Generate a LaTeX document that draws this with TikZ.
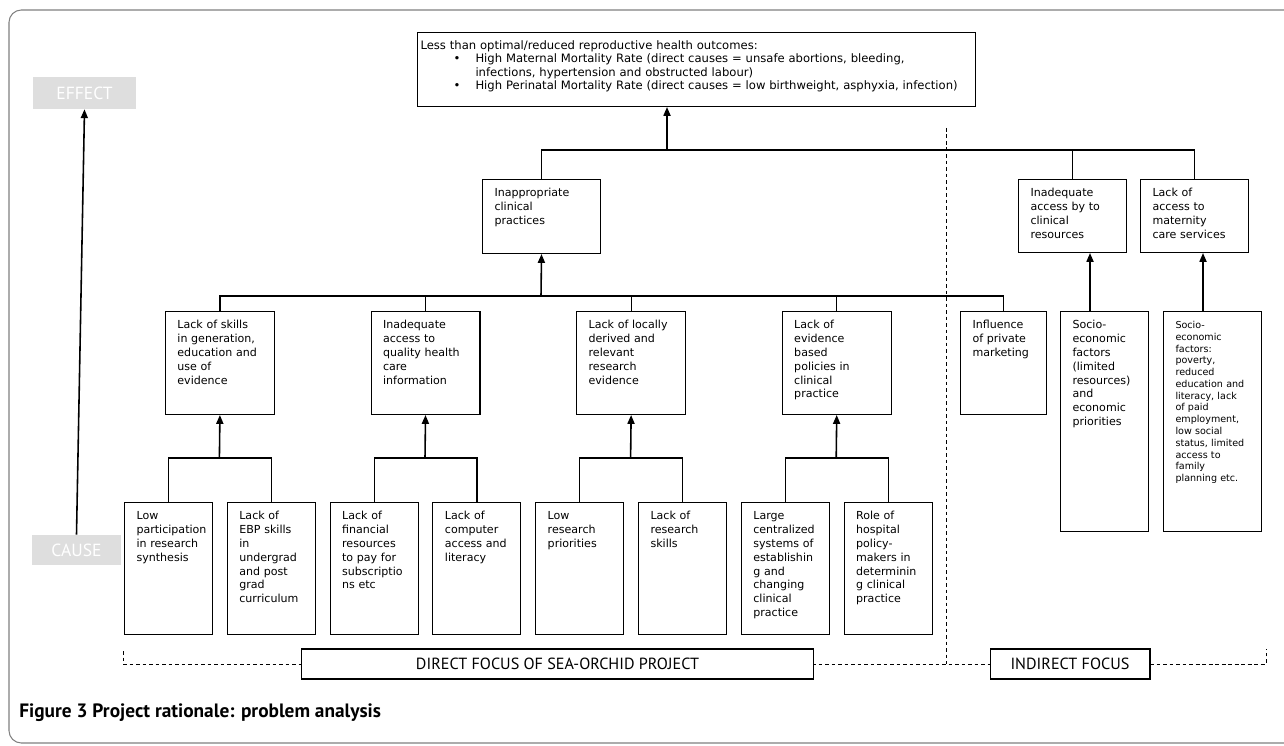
\documentclass[tikz,border=0pt]{standalone}
\usepackage{fontspec}
\setmainfont{DejaVu Sans}
\newfontfamily\labelfont{PT Sans}
\usetikzlibrary{arrows.meta}
\hyphenpenalty=10000

\tikzset{
  cell/.style={draw, line width=0.6pt, fill=white, anchor=north west, align=left,
    inner xsep=0.24cm, inner ysep=0.18cm, text height=0.16cm,
    font=\fontsize{6.3}{7.9}\selectfont},
  midbox/.style={cell, text width=1.70cm, text depth=1.54cm},
  lowbox/.style={cell, text width=1.28cm, text depth=2.12cm},
  headbox/.style={cell, text width=1.88cm, text depth=0.96cm},
  sidebox/.style={cell, text width=1.68cm, text depth=0.94cm},
  tallbox/.style={cell, text depth=3.88cm},
  tagbox/.style={fill=gray!26, text=white, inner sep=0pt,
    font=\labelfont\fontsize{10}{12}\selectfont},
  focusbox/.style={draw, line width=0.6pt, fill=white, inner sep=0pt,
    minimum height=0.6cm, font=\labelfont\fontsize{9.2}{11}\selectfont},
  link/.style={line width=0.7pt},
  arr/.style={-{Triangle[length=5pt,width=4pt]}, line width=0.9pt},
  focusline/.style={dash pattern=on 2.2pt off 1.5pt, line width=0.5pt}
}

\begin{document}
\begin{tikzpicture}[x=0.02cm, y=-0.02cm]
  \useasboundingbox (0,0) rectangle (1284,746);
  \clip (0,0) rectangle (1284,746);
  \draw[gray, line width=0.6pt, rounded corners=7pt] (1300,10) -- (9,10) -- (9,743) -- (1300,743);

  \draw[focusline] (123,651) -- (123,664) -- (1266,664) -- (1266,649);
  \draw[focusline] (946,128) -- (946,664);

  \node[cell, inner xsep=0.06cm, text width=11.04cm, text depth=0.96cm, font=\fontsize{6.6}{7.55}\selectfont] (outcome) at (417,32)
    {Less than optimal/reduced reproductive health outcomes:\\
     \hspace*{0.66cm}\makebox[0.44cm][l]{\textbullet}High Maternal Mortality Rate (direct causes = unsafe abortions, bleeding,\\
     \hspace*{1.1cm}infections, hypertension and obstructed labour)\\
     \hspace*{0.66cm}\makebox[0.44cm][l]{\textbullet}High Perinatal Mortality Rate (direct causes = low birthweight, asphyxia, infection)};

  \node[headbox] (inap) at (482,179) {Inappropriate\\clinical\\practices};
  \node[sidebox] (inacc) at (1018,179) {Inadequate\\access~by~to\\clinical\\resources};
  \node[sidebox] (lackacc) at (1140,179) {Lack~of\\access~to\\maternity\\care~services};

  \node[midbox] (skills) at (164.9,311) {Lack~of~skills\\in~generation,\\education~and\\use~of\\evidence};
  \node[midbox] (access) at (370.5,311) {Inadequate\\access~to\\quality~health\\care\\information};
  \node[midbox] (local) at (576.1,311) {Lack~of~locally\\derived~and\\relevant\\research\\evidence};
  \node[midbox] (policy) at (781.7,311) {Lack~of\\evidence\\based\\policies~in\\clinical\\practice};
  \node[cell, text width=1.24cm, text depth=1.54cm] (market) at (960,311) {Influence\\of~private\\marketing};
  \node[tallbox, text width=1.28cm] (soc1) at (1060,311) {Socio-\\economic\\factors\\(limited\\resources)\\and\\economic\\priorities};
  \node[tallbox, text width=1.48cm, font=\fontsize{5.45}{6.7}\selectfont] (soc2) at (1163,311)
    {Socio-\\economic\\factors:\\poverty,\\reduced\\education~and\\literacy,~lack\\of~paid\\employment,\\low~social\\status,~limited\\access~to\\family\\planning~etc.};

  \node[lowbox] (synth) at (124,502) {Low\\participation\\in~research\\synthesis};
  \node[lowbox] (ebp) at (226.8,502) {Lack~of\\EBP~skills\\in\\undergrad\\and~post\\grad\\curriculum};
  \node[lowbox] (funds) at (329.6,502) {Lack~of\\financial\\resources\\to~pay~for\\subscriptio\\ns~etc};
  \node[lowbox] (comp) at (432.4,502) {Lack~of\\computer\\access~and\\literacy};
  \node[lowbox] (prio) at (535.2,502) {Low\\research\\priorities};
  \node[lowbox] (rskill) at (638,502) {Lack~of\\research\\skills};
  \node[lowbox] (central) at (740.8,502) {Large\\centralized\\systems~of\\establishin\\g~and\\changing\\clinical\\practice};
  \node[lowbox] (hosp) at (843.6,502) {Role~of\\hospital\\policy-\\makers~in\\determinin\\g~clinical\\practice};

  \coordinate (b1) at (219.4,458);
  \coordinate (b2) at (425,458);
  \coordinate (b3) at (630.6,458);
  \coordinate (b4) at (836.2,458);
  \draw[link] (synth.north) |- (b1) -| (ebp.north);
  \draw[link] (funds.north) |- (b2) -| (comp.north);
  \draw[link] (prio.north) |- (b3) -| (rskill.north);
  \draw[link] (central.north) |- (b4) -| (hosp.north);
  \draw[arr] (b1) -- (skills.south);
  \draw[arr] (b2) -- (access.south);
  \draw[arr] (b3) -- (local.south);
  \draw[arr] (b4) -- (policy.south);

  \coordinate (j1) at (541,296);
  \draw[link] (skills.north) |- (j1) -| (market.north);
  \draw[link] (access.north) -- (access.north |- j1);
  \draw[link] (local.north) -- (local.north |- j1);
  \draw[link] (policy.north) -- (policy.north |- j1);
  \draw[arr] (j1) -- (inap.south);

  \coordinate (s1) at (1090,311);
  \coordinate (s2) at (1203,311);
  \draw[arr] (s1) -- (s1 |- inacc.south);
  \draw[arr] (s2) -- (s2 |- lackacc.south);

  \coordinate (j0) at (667,150);
  \draw[link] (inap.north) |- (j0) -| (lackacc.north);
  \draw[link] (inacc.north) -- (inacc.north |- j0);
  \draw[arr] (j0) -- (j0 |- outcome.south);

  \node[tagbox, minimum width=2.06cm, minimum height=0.64cm] (effect) at (84.5,93) {EFFECT};
  \node[tagbox, minimum width=1.78cm, minimum height=0.6cm] (cause) at (76.5,550) {CAUSE};
  \draw[arr] (cause.north) -- (effect.south);

  \node[focusbox, minimum width=10.26cm] (direct) at (557.5,664) {DIRECT FOCUS OF SEA-ORCHID PROJECT};
  \node[focusbox, minimum width=3.2cm] (indirect) at (1070,664) {INDIRECT FOCUS};

  \node[anchor=west, inner sep=0pt, font=\labelfont\bfseries\fontsize{11}{13}\selectfont] (caption) at (19,713)
    {Figure 3 Project rationale: problem analysis};
\end{tikzpicture}
\end{document}
